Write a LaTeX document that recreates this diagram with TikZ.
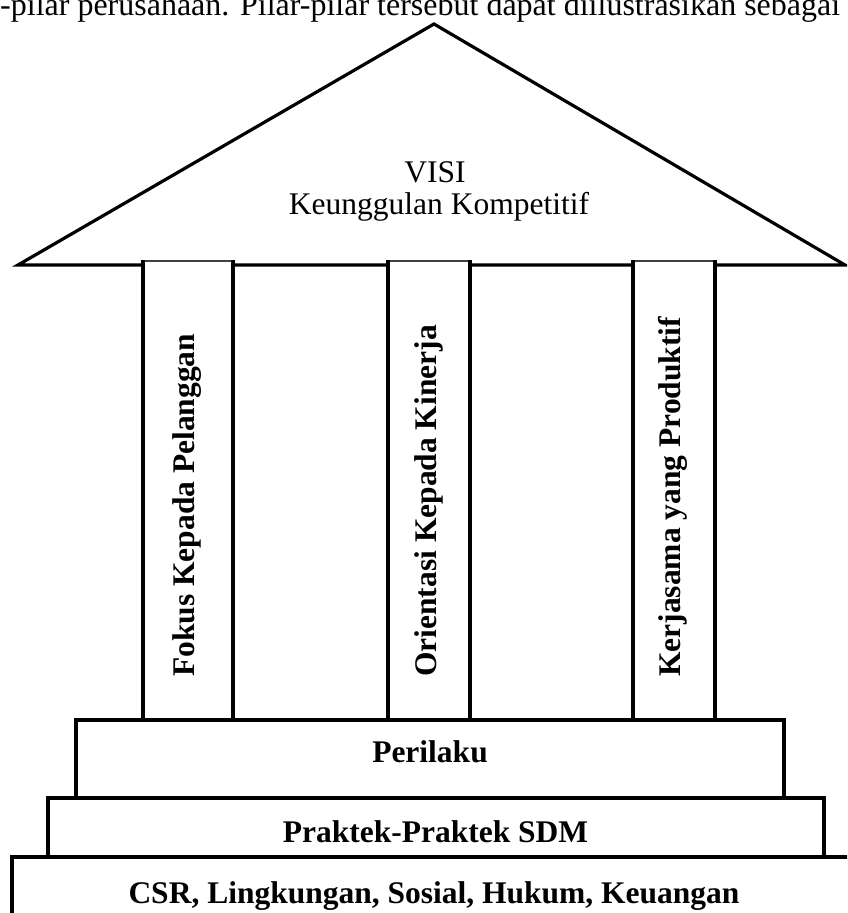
\documentclass[tikz,border=0pt]{standalone}
\usepackage{fontspec}
\setmainfont{Liberation Serif}
\begin{document}
\begin{tikzpicture}[x=1pt,y=-1pt,line join=miter,
  txt/.style={font=\fontsize{31.5}{36}\selectfont, inner sep=0pt},
  btxt/.style={font=\fontsize{31.5}{36}\selectfont\bfseries, inner sep=0pt},
  thick line/.style={line width=3.5pt},
  roofline/.style={line width=3.2pt}]
\useasboundingbox (0,0) rectangle (847,913);
\begin{scope}
\clip (0,0) rectangle (847,913);
% intro text (cut at top, as in the source page)
\node[txt, font=\fontsize{32}{36}\selectfont, anchor=base west] (intro) at (0,15) {-pilar perusahaan. Pilar-pilar tersebut dapat diilustrasikan sebagai};
% roof
\coordinate (apex) at (434,24);
\coordinate (rl) at (18,265);
\coordinate (rr) at (845,265);
\draw[roofline] (rl) -- (apex) -- (rr) -- cycle;
% pillars
\foreach \l/\r/\n in {143/233/p1, 388/470/p2, 633/715/p3}{
  \fill[white] (\l,261) rectangle (\r,720);
  \draw[line width=2pt, black!75] (\l,261) -- (\r,261);
  \draw[thick line] (\l,260) -- (\l,720);
  \draw[thick line] (\r,260) -- (\r,720);
}
% bottom boxes
\draw[thick line] (12,857) rectangle (870,940);
\draw[thick line, fill=white] (48,798) rectangle (824,857);
\draw[thick line, fill=white] (76,720) rectangle (784,798);
% texts
\node[txt, anchor=base] (visi) at (435,182) {VISI};
\node[txt, anchor=base] (keung) at (439,214) {Keunggulan Kompetitif};
\node[btxt, rotate=90, anchor=west] (t1) at (187,677) {Fokus Kepada Pelanggan};
\node[btxt, rotate=90, anchor=west] (t2) at (429,677) {Orientasi Kepada Kinerja};
\node[btxt, rotate=90, anchor=west] (t3) at (673,677) {Kerjasama yang Produktif};
\node[btxt, anchor=base] (perilaku) at (430,762) {Perilaku};
\node[btxt, anchor=base] (praktek) at (435.5,842) {Praktek-Praktek SDM};
\node[btxt, anchor=base] (csr) at (434,903) {CSR, Lingkungan, Sosial, Hukum, Keuangan};
\end{scope}
\end{tikzpicture}
\end{document}
